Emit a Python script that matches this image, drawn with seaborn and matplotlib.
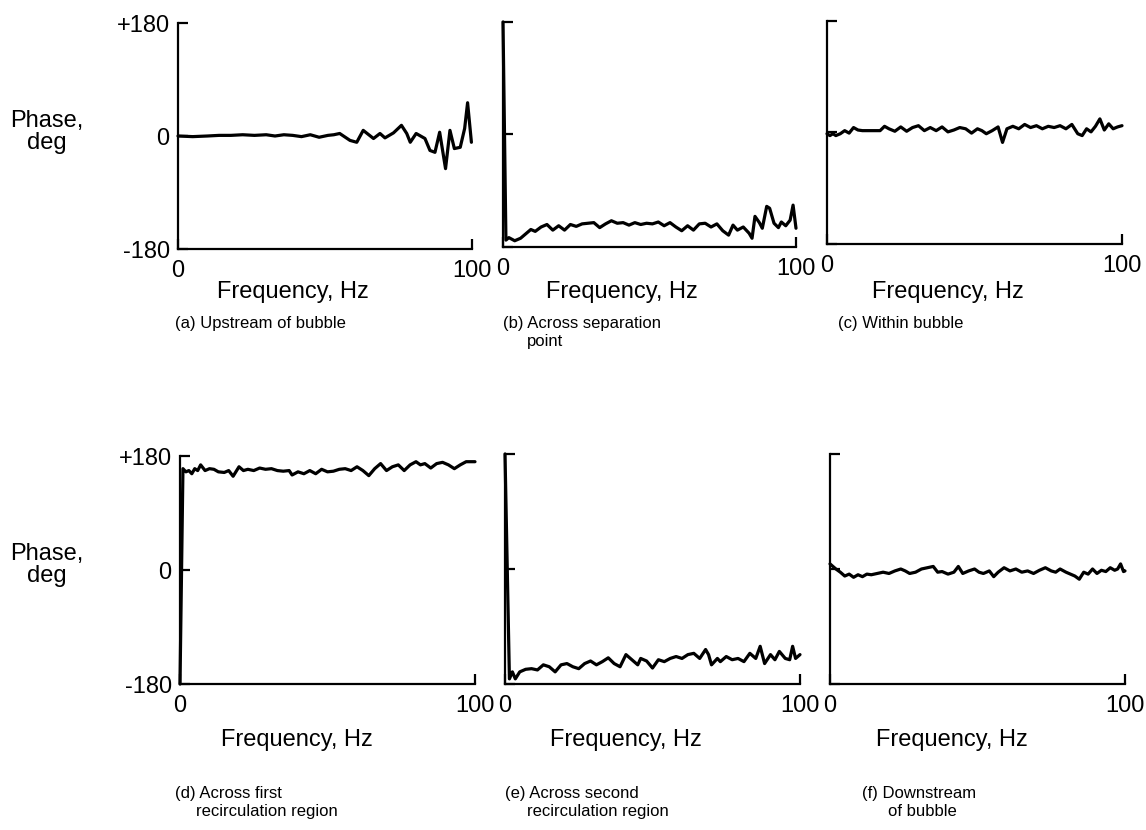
import matplotlib
matplotlib.use("Agg")
import matplotlib.pyplot as plt
import seaborn as sns
import pandas as pd

# ---------------- data ----------------
freq_a = [0, 5, 10, 14, 18, 22, 26, 30, 33, 36, 39, 42, 45, 48, 51, 53, 55, 58.5, 60.8, 63,
          66.5, 68.7, 70.4, 73.3, 76, 77.8, 79, 81, 84, 85.7, 87.4, 89, 91, 92.5, 94, 96, 97.5, 98.5, 99.8]
phase_a = [0, -1, 0, 1, 1, 2, 1, 2, 0, 2, 1, -1, 2, -2, 1, 2, 4, -7, -10, 9,
           -4, 4, -3, 5, 17, 4, -10, 4, -4, -23, -26, 6, -52, 9, -20, -18, 12, 53, -10]

freq_b = [0, 1, 2, 4, 6, 8, 9.5, 11, 13, 15, 17, 19, 21, 23, 25, 27, 29, 31, 33, 35,
          37, 39, 41, 43, 45, 47, 49, 51, 53, 55, 57, 59, 61, 63, 65, 67, 69, 71, 73, 75,
          77, 78.5, 80, 82, 84, 85, 86, 87.5, 88.5, 90, 91, 92.5, 94, 95, 96.5, 98, 99, 100]
phase_b = [180, -169, -165, -170, -166, -158, -152, -155, -148, -144, -153, -146, -153, -144, -147, -143, -142, -141, -149, -143,
           -138, -142, -141, -145, -141, -144, -142, -143, -140, -146, -141, -148, -154, -146, -153, -143, -142, -148, -143, -154,
           -161, -145, -153, -148, -158, -166, -131, -141, -150, -115, -118, -142, -149, -140, -146, -137, -113, -150]

freq_c = [0, 1, 2, 3, 4.5, 6, 7.5, 9, 10.5, 12, 14, 16, 18, 19.5, 21, 23, 25, 27, 29, 31,
          33, 35, 37, 39, 41, 43, 45, 47, 49, 51, 52.5, 54, 56, 58, 59.5, 61, 63, 65, 67, 69,
          71, 73, 75, 77, 79, 81, 83, 85, 86.5, 88, 89.5, 91, 92.5, 94, 95.5, 97, 98.5, 100]
phase_c = [-2, -5, -2, -5, -2, 3, -1, 8, 4, 3, 3, 3, 3, 10, 6, 2, 9, 2, 8, 11,
           3, 8, 3, 9, 1, 4, 8, 6, -1, 6, 3, -2, 3, 9, -16, 6, 10, 6, 13, 8,
           11, 6, 10, 8, 11, 6, 13, -2, -5, 6, 1, 10, 22, 4, 14, 6, 9, 11]

freq_d = [0, 1, 2, 3, 4, 5, 6, 7, 8.5, 10, 11.5, 13, 15, 16.5, 18, 20, 21.5, 23, 25, 27,
          29, 31, 33, 35, 37, 38, 40, 42, 44, 46, 48, 50, 52, 54, 56, 58, 60, 62, 64, 66,
          68, 70, 72, 74, 76, 78, 80, 81.5, 83, 85, 87, 89, 91, 93, 95, 97, 99, 100]
phase_d = [-180, 160, 155, 157, 152, 160, 157, 166, 157, 160, 159, 155, 154, 157, 148, 163, 157, 159, 157, 161,
           159, 160, 157, 156, 157, 150, 155, 152, 157, 152, 159, 155, 156, 159, 160, 157, 163, 157, 149, 160,
           168, 157, 163, 166, 157, 166, 171, 166, 168, 161, 168, 170, 166, 160, 166, 171, 171, 171]

freq_e = [0, 1.5, 2.5, 3.5, 5, 7, 9, 11, 13, 15, 17, 19, 21, 23, 25, 27, 29, 31, 33, 35,
          37, 39, 41, 43, 45, 46, 48, 50, 52, 54, 56, 58, 60, 62, 64, 66, 68, 69, 70, 72,
          73, 75, 77, 79, 81, 83, 85, 86.5, 88, 90, 91.5, 93, 95, 96.5, 97.5, 98.5, 100]
phase_e = [180, -172, -161, -172, -161, -157, -156, -158, -150, -153, -161, -150, -148, -153, -156, -148, -144, -150, -145, -139,
           -148, -153, -134, -142, -150, -140, -144, -155, -142, -145, -140, -137, -140, -134, -132, -140, -126, -134, -150, -140,
           -145, -137, -142, -140, -145, -132, -140, -121, -148, -134, -142, -129, -140, -142, -121, -140, -134]

freq_f = [0, 2, 3.5, 5, 6.5, 8, 9.5, 11, 12.5, 14, 16, 18, 20, 22, 24, 25.5, 27, 29, 31, 33,
          35, 36.5, 38, 40, 42, 43.5, 45, 47, 49, 50.5, 52, 54, 55.5, 57, 59, 61, 63, 65, 67, 69,
          71, 73, 75, 76.5, 78, 80, 81.5, 83, 84.5, 86, 87.5, 89, 90.5, 92, 93.5, 95, 96.5, 97.5, 98.5, 99.5, 100]
phase_f = [8, 0, -5, -11, -8, -13, -9, -12, -8, -9, -7, -5, -7, -3, 0, -3, -7, -5, 0, 2,
           4, -5, -4, -8, -5, 4, -7, -3, 0, -5, -7, -3, -12, -5, 2, -3, 0, -5, -3, -7,
           -2, 2, -3, -5, 0, -5, -8, -11, -16, -5, -8, 0, -7, -2, -4, 2, -2, 0, 8, -4, -3]

captions = [
    ["(a) Upstream of bubble"],
    ["(b) Across separation", "point"],
    ["(c) Within bubble"],
    ["(d) Across first", "recirculation region"],
    ["(e) Across second", "recirculation region"],
    ["(f) Downstream", "of bubble"],
]
y_ticks = [-180, 0, 180]
y_ticklabels = ["-180", "0", "+180"]
x_ticks = [0, 100]
x_ticklabels = ["0", "100"]
x_label = "Frequency, Hz"
y_label = "Phase,\ndeg"

series = [(freq_a, phase_a), (freq_b, phase_b), (freq_c, phase_c),
          (freq_d, phase_d), (freq_e, phase_e), (freq_f, phase_f)]

# ---------------- style ----------------
sns.set_theme(style="white")
plt.rcParams["font.family"] = ["Liberation Sans", "DejaVu Sans"]
plt.rcParams["text.color"] = "black"

W, H = 1146, 830
fig = plt.figure(figsize=(W / 100, H / 100), dpi=100)


def rect(x0, y0, x1, y1):
    return [x0 / W, 1 - y1 / H, (x1 - x0) / W, (y1 - y0) / H]


boxes = [(178, 23, 472, 249), (503, 22, 796, 247), (827, 21, 1122, 244),
         (180, 456, 475, 684), (505, 454, 800, 684), (830, 454, 1125, 684)]
xlabel_pos = [(293, 292), (622, 292), (948, 292), (297, 740), (626, 740), (952, 740)]
cap_pos = [[(175, 323)], [(503, 323), (527, 341)], [(838, 323)],
           [(175, 793), (196, 811)], [(505, 793), (527, 811)], [(862, 793), (888, 811)]]

for i, ((fx, ph), box) in enumerate(zip(series, boxes)):
    ax = fig.add_axes(rect(*box))
    df = pd.DataFrame({"Frequency": fx, "Phase": ph})
    sns.lineplot(data=df, x="Frequency", y="Phase", ax=ax, color="black",
                 linewidth=2.3, sort=False, estimator=None)
    for ln in ax.lines:
        ln.set_clip_on(False)
    ax.set_xlim(0, 100)
    ax.set_ylim(-180, 180)
    ax.set_xlabel("")
    ax.set_ylabel("")
    sns.despine(ax=ax)
    for s in ("left", "bottom"):
        ax.spines[s].set_linewidth(1.6)
        ax.spines[s].set_color("black")
    ax.set_xticks(x_ticks)
    ax.set_xticklabels(x_ticklabels)
    ax.set_yticks(y_ticks)
    if i % 3 == 0:
        ax.set_yticklabels(y_ticklabels)
    else:
        ax.set_yticklabels([])
    ax.tick_params(left=True, bottom=True, direction="in", length=7, width=1.6,
                   colors="black", labelcolor="black", labelsize=17, pad=6)
    ax.tick_params(axis="x", pad=8)
    fig.text(xlabel_pos[i][0] / W, 1 - xlabel_pos[i][1] / H, x_label,
             ha="center", va="center", fontsize=17, color="black")
    for line, (cx, cy) in zip(captions[i], cap_pos[i]):
        fig.text(cx / W, 1 - cy / H, line, ha="left", va="center",
                 fontsize=12, color="black")

for yc in (132, 565):
    fig.text(47 / W, 1 - yc / H, y_label, ha="center", va="center",
             fontsize=17, linespacing=1.05, color="black")

fig.savefig("out.png", dpi=100, facecolor="white")
